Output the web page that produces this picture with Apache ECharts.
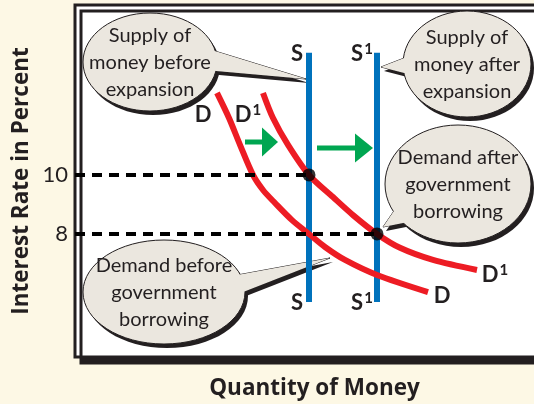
<!DOCTYPE html>
<html>
<head>
<meta charset="utf-8">
<script src="https://cdn.jsdelivr.net/npm/echarts@6/dist/echarts.min.js"></script>
<style>
html, body { margin: 0; padding: 0; background: #fdf8e5; }
#chart { width: 534px; height: 404px; }
</style>
</head>
<body>
<div id="chart"></div>
<script>
// interest rate ticks shown on the axis
var rateTicks = [8, 10];
// demand for money (quantity, rate)
var demandBefore = [[14.2, 12.78], [15.4, 11.93], [16.5, 11.02], [17.8, 10.0], [18.8, 9.49], [20.0, 9.05],
  [21.7, 8.47], [23.4, 8.0], [25.0, 7.56], [27.0, 7.12], [30.2, 6.61], [35.3, 6.03]];
var demandAfter = [[18.8, 12.78], [19.8, 11.93], [21.3, 11.02], [23.4, 10.0], [25.8, 9.25], [27.8, 8.64],
  [30.2, 8.0], [32.5, 7.53], [35.8, 7.12], [40.2, 6.78]];
// money supply (vertical)
var supplyBefore = [[23.4, 14.14], [23.4, 5.69]];
var supplyAfter = [[30.2, 14.14], [30.2, 5.69]];
// equilibrium points and guide lines
var equilibria = [[23.4, 10], [30.2, 8]];
var guide10 = [[0, 10], [23.4, 10]];
var guide8 = [[0, 8], [30.2, 8]];

var INK = '#231f20';
var BUBBLE = '#ebe7df';
var chart = echarts.init(document.getElementById('chart'));

function lineSeries(data, color, width, dash, z) {
  return {
    type: 'line', data: data, symbol: 'none', z: z, silent: true,
    lineStyle: { color: color, width: width, type: dash || 'solid', cap: 'butt' }
  };
}
function curve(data) {
  var s = lineSeries(data, '#ed1c24', 6, null, 3);
  s.smooth = 0.3;
  return s;
}

// speech bubble: ellipse + tail, shadow bottom-right
function bubble(cx, cy, rx, ry, tail, lines) {
  var shadowOff = [3, 4];
  var shTail = tail.map(function (p) { return [p[0] + shadowOff[0], p[1] + shadowOff[1]]; });
  return {
    type: 'group',
    children: [
      { type: 'ellipse', shape: { cx: cx + shadowOff[0], cy: cy + shadowOff[1], rx: rx, ry: ry }, style: { fill: INK } },
      { type: 'polygon', shape: { points: shTail }, style: { fill: INK } },
      { type: 'polygon', shape: { points: tail }, style: { fill: BUBBLE, stroke: INK, lineWidth: 1 } },
      { type: 'ellipse', shape: { cx: cx, cy: cy, rx: rx, ry: ry }, style: { fill: BUBBLE, stroke: INK, lineWidth: 1 } },
      { type: 'polygon', shape: { points: tail }, style: { fill: BUBBLE } },
      {
        type: 'text', x: cx, y: cy + 1,
        style: {
          text: lines.join('\n'), fill: INK, font: '20px Lato',
          align: 'center', verticalAlign: 'middle', lineHeight: 27
        }
      }
    ]
  };
}

function label(x, y, txt, sup) {
  return {
    type: 'text', x: x, y: y,
    style: {
      text: sup ? '{b|' + txt + '}{s|' + sup + '}' : '{b|' + txt + '}',
      align: 'center', verticalAlign: 'middle',
      rich: {
        b: { font: 'bold 22px Lato', fill: INK },
        s: { font: 'bold 15px Lato', fill: INK, verticalAlign: 'top', padding: [0, 0, 10, 1] }
      }
    }
  };
}

function arrow(x1, x2, y, head, h) {
  return {
    type: 'group',
    children: [
      { type: 'line', shape: { x1: x1, y1: y, x2: x2 - head + 1, y2: y }, style: { stroke: '#00a651', lineWidth: 5 } },
      { type: 'polygon', shape: { points: [[x2 - head, y - h / 2], [x2 - head, y + h / 2], [x2, y]] }, style: { fill: '#00a651' } }
    ]
  };
}

chart.setOption({
  backgroundColor: '#fdf8e5',
  animation: false,
  grid: {
    left: 75, top: 5, right: -20, bottom: 47,
    outerBoundsMode: 'none', containLabel: false,
    show: true, backgroundColor: '#ffffff', borderColor: INK, borderWidth: 3,
    shadowColor: INK, shadowBlur: 0, shadowOffsetX: 6, shadowOffsetY: 6
  },
  xAxis: {
    type: 'value', min: 0, max: 47.9,
    axisLine: { show: false }, axisTick: { show: false },
    axisLabel: { show: false }, splitLine: { show: false },
    name: 'Quantity of Money', nameLocation: 'middle', nameGap: 20, nameMoveOverlap: false,
    nameTextStyle: { fontFamily: 'Open Sans', fontWeight: 'bold', fontSize: 22.5, color: INK }
  },
  yAxis: {
    type: 'value', min: 3.83, max: 15.76,
    axisLine: { show: false }, axisTick: { show: false }, splitLine: { show: false },
    axisLabel: { customValues: rateTicks, fontFamily: 'Lato', fontSize: 22, color: INK, margin: 7 },
    name: 'Interest Rate in Percent', nameLocation: 'middle', nameGap: 42, nameMoveOverlap: false,
    nameTextStyle: { fontFamily: 'Open Sans', fontWeight: 'bold', fontSize: 22.5, color: INK }
  },
  series: [
    lineSeries(supplyBefore, '#0072bc', 6, null, 2),
    lineSeries(supplyAfter, '#0072bc', 6, null, 2),
    curve(demandBefore),
    curve(demandAfter),
    lineSeries(guide10, '#000000', 4, [10, 7], 4),
    lineSeries(guide8, '#000000', 4, [10, 7], 4),
    {
      type: 'scatter', data: equilibria, symbolSize: 13, z: 5, silent: true,
      itemStyle: { color: '#000000' }
    }
  ],
  graphic: [
    bubble(150, 62, 67, 49, [[205, 48], [306, 79], [205, 70]], ['Supply of', 'money before', 'expansion']),
    bubble(467, 64, 64, 53, [[412, 55], [381, 67], [412, 75]], ['Supply of', 'money after', 'expansion']),
    bubble(458, 184, 73, 59, [[398, 205], [383, 227], [408, 222]], ['Demand after', 'government', 'borrowing']),
    bubble(164, 292, 81, 52, [[232, 276], [330, 258], [238, 294]], ['Demand before', 'government', 'borrowing']),
    label(297, 54, 'S'),
    label(362, 54, 'S', '1'),
    label(297, 303, 'S'),
    label(362, 303, 'S', '1'),
    label(203, 115, 'D'),
    label(248, 115, 'D', '1'),
    label(442, 296, 'D'),
    label(495, 275, 'D', '1'),
    arrow(245, 278, 142, 16, 29),
    arrow(317, 373, 148, 18, 29)
  ]
});
</script>
</body>
</html>
